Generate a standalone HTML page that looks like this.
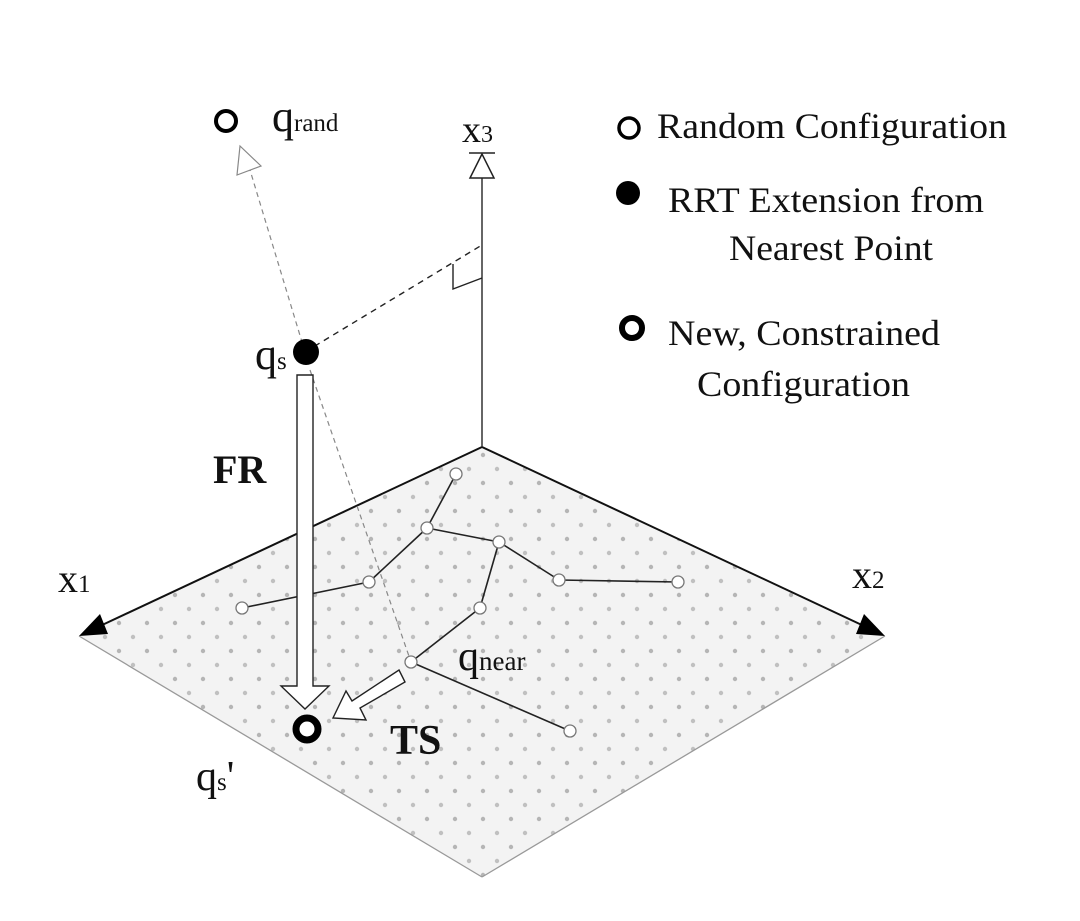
<!DOCTYPE html>
<html><head><meta charset="utf-8"><style>
html,body{margin:0;padding:0;background:#fff;}
svg{display:block;}
text{font-family:"Liberation Serif",serif;fill:#111;}
</style></head><body>
<svg width="1080" height="921" viewBox="0 0 1080 921" xmlns="http://www.w3.org/2000/svg">
<defs>
<pattern id="dots" x="0" y="0" width="28" height="28" patternUnits="userSpaceOnUse">
<rect width="28" height="28" fill="#f3f3f3"/>
<circle cx="7" cy="7" r="2.2" fill="#b5b5b5"/>
<circle cx="21" cy="21" r="2.2" fill="#c0c0c0"/>
</pattern>
</defs>
<polygon points="482,447 885,636 482,877 79,636" fill="url(#dots)"/>
<line x1="482" y1="447" x2="100" y2="626" stroke="#111" stroke-width="2"/>
<line x1="482" y1="447" x2="864" y2="626" stroke="#111" stroke-width="2"/>
<line x1="79" y1="636" x2="482" y2="877" stroke="#999" stroke-width="1.3"/>
<line x1="885" y1="636" x2="482" y2="877" stroke="#999" stroke-width="1.3"/>
<polygon points="79,636 100,614 108,634" fill="#000"/>
<polygon points="885,636 864,614 856,634" fill="#000"/>
<line x1="482" y1="447" x2="482" y2="178" stroke="#333" stroke-width="1.5"/>
<polygon points="482,154 470,178 494,178" fill="#fff" stroke="#222" stroke-width="1.5"/>
<line x1="469" y1="153" x2="495" y2="153" stroke="#222" stroke-width="1.5"/>
<line x1="305" y1="352" x2="482" y2="245" stroke="#222" stroke-width="1.4" stroke-dasharray="6,5"/>
<polyline points="453,264 453,289 482,278" fill="none" stroke="#222" stroke-width="1.4"/>
<line x1="305" y1="352" x2="250" y2="170" stroke="#888" stroke-width="1.2" stroke-dasharray="5,4"/>
<polygon points="240,146 237,175 261,166" fill="#fff" stroke="#888" stroke-width="1.2"/>
<line x1="310" y1="370" x2="411" y2="662" stroke="#888" stroke-width="1.2" stroke-dasharray="5,4"/>
<g stroke="#222" stroke-width="1.6">
<line x1="456" y1="474" x2="427" y2="528"/>
<line x1="427" y1="528" x2="499" y2="542"/>
<line x1="427" y1="528" x2="369" y2="582"/>
<line x1="369" y1="582" x2="242" y2="608"/>
<line x1="499" y1="542" x2="559" y2="580"/>
<line x1="559" y1="580" x2="678" y2="582"/>
<line x1="499" y1="542" x2="480" y2="608"/>
<line x1="480" y1="608" x2="411" y2="662"/>
<line x1="411" y1="662" x2="570" y2="731"/>
</g>
<g fill="#fff" stroke="#777" stroke-width="1.3">
<circle cx="456" cy="474" r="6"/><circle cx="427" cy="528" r="6"/>
<circle cx="499" cy="542" r="6"/><circle cx="559" cy="580" r="6"/>
<circle cx="678" cy="582" r="6"/><circle cx="369" cy="582" r="6"/>
<circle cx="242" cy="608" r="6"/><circle cx="480" cy="608" r="6"/>
<circle cx="411" cy="662" r="6"/><circle cx="570" cy="731" r="6"/>
</g>
<polygon points="297,375 313,375 313,686 329,686 305,709 281,686 297,686" fill="#fff" stroke="#222" stroke-width="1.4"/>
<polygon points="399,670 405,682 360,708 366,720 333,718 346,691 352,701" fill="#fff" stroke="#222" stroke-width="1.4"/>
<circle cx="306" cy="352" r="13" fill="#000"/>
<circle cx="307" cy="729" r="11" fill="#fff" stroke="#000" stroke-width="7"/>
<circle cx="226" cy="121" r="10" fill="#fff" stroke="#000" stroke-width="4"/>
<text x="272" y="131" font-size="44">q<tspan font-size="25">rand</tspan></text>
<text x="462" y="142" font-size="38">x<tspan font-size="24">3</tspan></text>
<text x="255" y="369" font-size="44">q<tspan font-size="25">s</tspan></text>
<text x="213" y="483" font-size="40" font-weight="bold">FR</text>
<text x="58" y="592" font-size="40">x<tspan font-size="25">1</tspan></text>
<text x="852" y="588" font-size="40">x<tspan font-size="25">2</tspan></text>
<text x="458" y="670" font-size="42">q<tspan font-size="27">near</tspan></text>
<text x="390" y="754" font-size="42" font-weight="bold">TS</text>
<text x="196" y="790" font-size="42">q<tspan font-size="25">s</tspan>'</text>
<circle cx="629" cy="128" r="10" fill="#fff" stroke="#000" stroke-width="3.5"/>
<text x="657" y="138" font-size="36" textLength="350" lengthAdjust="spacingAndGlyphs">Random Configuration</text>
<circle cx="628" cy="193" r="12" fill="#000"/>
<text x="668" y="212" font-size="36" textLength="316" lengthAdjust="spacingAndGlyphs">RRT Extension from</text>
<text x="729" y="260" font-size="36" textLength="204" lengthAdjust="spacingAndGlyphs">Nearest Point</text>
<circle cx="632" cy="328" r="10" fill="#fff" stroke="#000" stroke-width="6"/>
<text x="668" y="345" font-size="36" textLength="272" lengthAdjust="spacingAndGlyphs">New, Constrained</text>
<text x="697" y="396" font-size="36" textLength="213" lengthAdjust="spacingAndGlyphs">Configuration</text>
</svg>
</body></html>
